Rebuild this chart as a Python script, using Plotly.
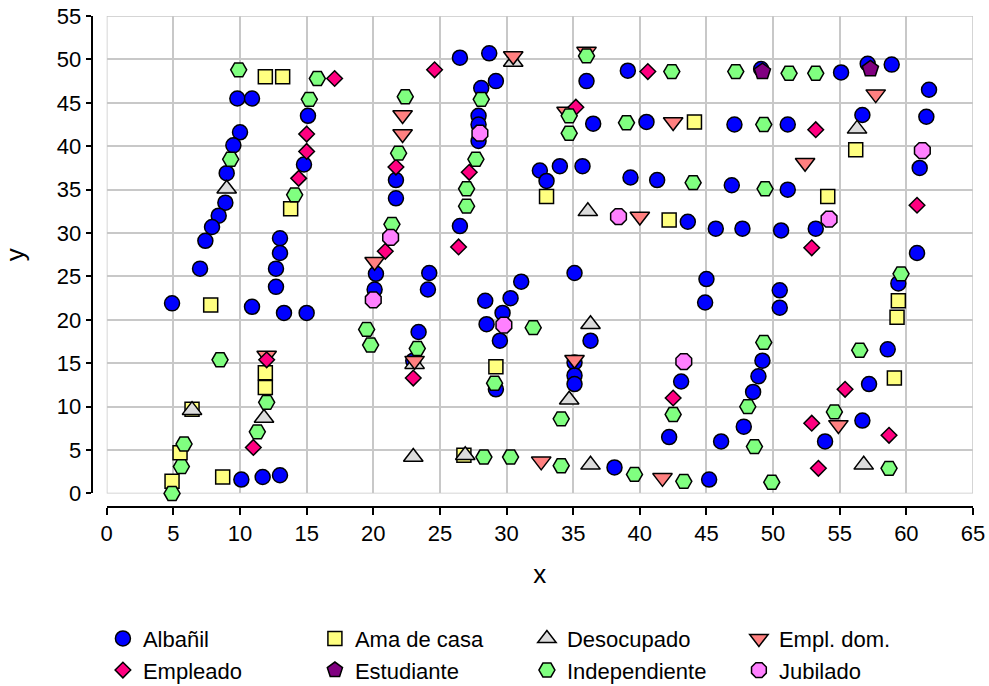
import plotly.graph_objects as go

# Occupation groups, in legend / drawing order
categories = ["Albañil", "Ama de casa", "Desocupado", "Empl. dom.",
              "Empleado", "Estudiante", "Independiente", "Jubilado"]

albanil_x = [10.0, 9.5, 9.0, 8.9, 8.4, 7.9, 7.4, 7.0, 4.9, 9.8, 10.9, 15.1, 14.8, 13.0, 13.0,
             12.7, 12.7, 10.9, 13.3, 15.0, 10.1, 11.7, 13.0, 26.5, 28.7, 36.0, 29.2, 28.1, 27.9,
             27.9, 27.9, 26.5, 21.7, 21.7, 32.5, 34.0, 35.7, 33.0, 36.5, 39.1, 49.1, 55.1, 40.5,
             47.1, 51.1, 39.3, 41.3, 46.9, 51.1, 43.6, 45.7, 47.7, 50.6, 53.2, 57.1, 58.9, 61.7,
             56.7, 61.5, 61.0, 60.8, 20.2, 24.2, 24.1, 20.1, 23.4, 23.0, 28.4, 30.3, 31.1, 29.7,
             28.5, 29.5, 29.2, 35.1, 36.3, 35.1, 35.1, 35.1, 45.0, 44.9, 50.5, 50.5, 49.2, 48.9,
             48.5, 47.8, 46.1, 43.1, 42.2, 38.1, 45.2, 53.9, 59.4, 58.6, 57.2, 56.7]
albanil_y = [41.6, 40.1, 36.9, 33.5, 32.0, 30.7, 29.1, 25.9, 21.9, 45.5, 45.5, 43.5, 37.9, 29.4, 27.7,
             25.9, 23.8, 21.5, 20.8, 20.8, 1.6, 1.9, 2.1, 50.2, 50.7, 47.5, 47.5, 46.7, 43.5,
             42.5, 40.6, 30.8, 36.1, 34.0, 37.2, 37.7, 37.7, 36.0, 42.6, 48.7, 48.9, 48.5, 42.8,
             42.5, 42.5, 36.4, 36.1, 35.5, 35.0, 31.3, 30.5, 30.5, 30.3, 30.5, 49.5, 49.4, 46.5,
             43.6, 43.4, 37.5, 27.7, 25.3, 25.4, 23.5, 23.5, 18.6, 15.3, 22.2, 22.5, 24.4, 20.8,
             19.5, 17.6, 12.0, 25.4, 17.6, 15.1, 13.6, 12.6, 24.7, 22.0, 23.4, 21.4, 15.3, 13.5,
             11.7, 7.7, 6.0, 12.9, 6.5, 3.0, 1.6, 6.0, 24.2, 16.6, 12.6, 8.4]

ama_x = [11.9, 13.2, 13.8, 7.8, 11.9, 11.9, 6.4, 5.5, 4.9, 8.7, 33.0, 44.1, 54.1, 42.2, 56.2,
         29.2, 26.8, 59.4, 59.3, 59.1]
ama_y = [48.0, 48.0, 32.8, 21.7, 13.9, 12.2, 9.7, 4.7, 1.4, 1.9, 34.2, 42.8, 34.2, 31.5, 39.6,
         14.6, 4.4, 22.2, 20.3, 13.3]

desoc_x = [9.0, 11.8, 6.4, 30.5, 36.1, 56.3, 23.1, 23.0, 26.9, 36.3, 36.3, 34.7, 56.8]
desoc_y = [35.1, 8.7, 9.6, 49.7, 32.5, 42.0, 14.9, 4.2, 4.4, 3.3, 19.5, 10.8, 3.3]

empldom_x = [12.0, 30.5, 36.0, 22.2, 22.2, 20.1, 34.5, 42.5, 52.4, 40.0, 57.7, 23.1, 32.6,
             41.7, 35.1, 54.9]
empldom_y = [15.9, 50.4, 50.9, 43.6, 41.4, 26.7, 44.0, 42.8, 38.1, 31.9, 46.0, 15.3, 3.7,
             1.8, 15.4, 7.9]

empleado_x = [17.1, 15.0, 15.0, 14.4, 12.0, 11.0, 24.6, 27.2, 26.4, 21.7, 20.9, 35.2, 40.6,
              53.2, 52.9, 60.8, 23.0, 42.5, 52.9, 53.4, 55.4, 58.7]
empleado_y = [47.8, 41.4, 39.4, 36.3, 15.4, 5.3, 48.8, 37.0, 28.4, 37.6, 27.9, 44.5, 48.6,
              41.9, 28.3, 33.2, 13.3, 11.0, 8.1, 2.9, 12.0, 6.7]

estud_x = [49.2, 57.3]
estud_y = [48.6, 48.9]

indep_x = [9.9, 15.8, 15.2, 14.1, 9.3, 8.5, 12.0, 11.3, 5.8, 5.6, 4.9, 22.4, 21.9, 21.4, 28.1,
           27.7, 27.0, 27.0, 36.0, 34.7, 34.7, 42.4, 47.2, 51.2, 53.2, 39.0, 49.3, 44.0, 49.4,
           19.5, 19.8, 23.3, 28.3, 30.3, 34.1, 32.0, 29.1, 34.1, 49.3, 48.1, 48.6, 49.9, 42.5,
           39.6, 43.3, 54.6, 59.6, 56.5, 58.7]
indep_y = [48.8, 47.8, 45.4, 34.4, 38.5, 15.4, 10.5, 7.1, 5.7, 3.1, 0.0, 45.7, 39.2, 31.0, 45.4,
           38.5, 35.1, 33.1, 50.4, 43.5, 41.5, 48.6, 48.6, 48.4, 48.4, 42.7, 42.5, 35.8, 35.1,
           18.9, 17.1, 16.7, 4.2, 4.2, 3.2, 19.1, 12.7, 8.6, 17.4, 10.0, 5.4, 1.3, 9.1,
           2.2, 1.4, 9.4, 25.3, 16.5, 2.9]

jubil_x = [28.0, 21.3, 38.4, 54.2, 61.2, 20.0, 29.8, 43.3]
jubil_y = [41.5, 29.5, 31.9, 31.6, 39.5, 22.3, 19.4, 15.2]

xs = [albanil_x, ama_x, desoc_x, empldom_x, empleado_x, estud_x, indep_x, jubil_x]
ys = [albanil_y, ama_y, desoc_y, empldom_y, empleado_y, estud_y, indep_y, jubil_y]

symbols = ["circle", "square", "triangle-up", "triangle-down",
           "diamond", "pentagon", "hexagon2", "octagon"]
colors = ["#0000FF", "#FFFF80", "#DCDCDC", "#FF8080",
          "#FF0080", "#800080", "#80FF80", "#FF80FF"]
sizes = [15, 14, 17, 17, 12, 17, 16, 17]

FONT = "Arial, Liberation Sans, sans-serif"

fig = go.Figure()
for name, x, y, sym, col, sz in zip(categories, xs, ys, symbols, colors, sizes):
    fig.add_trace(go.Scatter(
        x=x, y=y, mode="markers", name=name, cliponaxis=False,
        marker=dict(symbol=sym, color=col, size=sz,
                    line=dict(color="black", width=1.5)),
    ))

# light grey frame around the data region
fig.add_shape(type="rect", xref="x", yref="y", x0=0, x1=65, y0=0, y1=55,
              line=dict(color="#C8C8C8", width=1.5), layer="below")

fig.update_layout(
    width=989, height=686,
    margin=dict(l=60, r=16, t=16, b=100, autoexpand=False),
    paper_bgcolor="white", plot_bgcolor="white",
    font=dict(family=FONT, size=22, color="black"),
    showlegend=True,
    legend=dict(orientation="h", x=0.047, xanchor="left", y=-0.0555, yanchor="top",
                entrywidth=167, font=dict(size=22), itemsizing="trace",
                bgcolor="rgba(0,0,0,0)"),
    xaxis=dict(range=[0, 65], dtick=5, tick0=0, domain=[0.0512, 1.0],
               anchor="free", position=0.1386,
               showgrid=True, gridcolor="#C8C8C8", gridwidth=1.5, zeroline=False,
               showline=True, linecolor="black", linewidth=2,
               ticks="outside", ticklen=7, tickwidth=2, tickcolor="black",
               title=dict(text="x", standoff=18)),
    yaxis=dict(range=[0, 55], dtick=5, tick0=0, domain=[0.1623, 1.0],
               anchor="free", position=0.0347,
               showgrid=True, gridcolor="#C8C8C8", gridwidth=1.5, zeroline=False,
               showline=True, linecolor="black", linewidth=2,
               ticks="outside", ticklen=5, tickwidth=2, tickcolor="black",
               title=dict(text="y", standoff=25)),
)

fig.write_html("out.html")
